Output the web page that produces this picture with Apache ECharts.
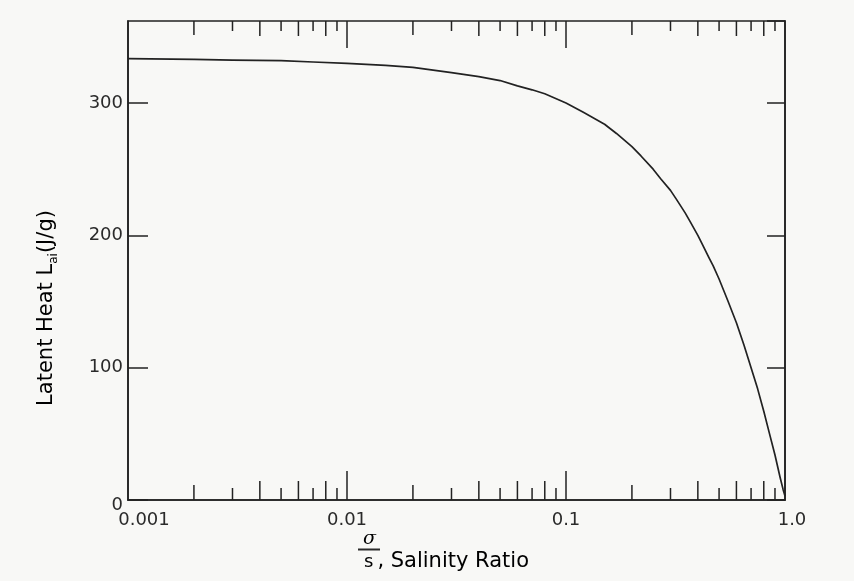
<!DOCTYPE html>
<html>
<head>
<meta charset="utf-8">
<script src="https://cdn.jsdelivr.net/npm/echarts@6/dist/echarts.min.js"></script>
<style>
html,body{margin:0;padding:0;background:#f8f8f6;}
#c{width:854px;height:581px;}
</style>
</head>
<body>
<div id="c"></div>
<script>
// ---- data ----
var salinityRatio = [0.001, 0.002, 0.003, 0.005, 0.007, 0.01, 0.015, 0.02, 0.03, 0.04, 0.05, 0.06, 0.07, 0.08, 0.1,
                     0.12, 0.15, 0.17, 0.2, 0.22, 0.25, 0.27, 0.3, 0.32, 0.35, 0.37, 0.4, 0.42, 0.45, 0.47, 0.5,
                     0.55, 0.6, 0.65, 0.7, 0.75, 0.8, 0.85, 0.9, 0.95, 0.98, 1.0];
var latentHeat    = [333.5, 333, 332.5, 332, 331, 330, 328.5, 327, 323, 320, 317, 313, 310, 307, 300,
                     293, 284, 277, 267, 260, 250, 243, 234, 227, 217, 210, 200, 193, 183, 177, 167,
                     150, 134, 117, 100, 84, 67, 50, 34, 17, 8, 3];
var xTickValues = [0.001, 0.01, 0.1, 1];
var xTickLabels = ['0.001', '0.01', '0.1', '1.0'];
var xMajorInner = [0.01, 0.1];
var xMinorTicks = [0.002,0.003,0.004,0.005,0.006,0.007,0.008,0.009,
                   0.02,0.03,0.04,0.05,0.06,0.07,0.08,0.09,
                   0.2,0.3,0.4,0.5,0.6,0.7,0.8,0.9];
var yMin = 0, yMax = 362, yInterval = 100;

var ink = '#222222';
var txt = '#2a2a2a';
var chart = echarts.init(document.getElementById('c'), null, {renderer: 'canvas'});

var tickData = xMajorInner.map(function (v) { return [v, 1]; })
  .concat(xMinorTicks.map(function (v) { return [v, 0]; }));

function tickLen(r, major, top) {
  if (major) return top ? 27 : 29;
  var d = Math.round(r / Math.pow(10, Math.floor(Math.log10(r) + 1e-9)));
  if (d === 2) return top ? 14 : 15;
  if (d % 2 === 0) return top ? 15 : 19;
  return top ? 10 : 12;
}

var option = {
  backgroundColor: '#f8f8f6',
  animation: false,
  grid: {left: 128, right: 69, top: 21, bottom: 81, show: true, borderColor: ink, borderWidth: 1.6, backgroundColor: 'transparent'},
  xAxis: {
    type: 'log', logBase: 10, min: 0.001, max: 1,
    axisLine: {show: true, lineStyle: {color: ink, width: 1.6}},
    axisTick: {show: false},
    splitLine: {show: false},
    minorTick: {show: false},
    axisLabel: {
      color: txt, fontFamily: 'DejaVu Sans', fontSize: 18, margin: 11,
      formatter: function (v) {
        var best = 0, bd = 1e9;
        for (var i = 0; i < xTickValues.length; i++) {
          var d = Math.abs(Math.log10(v) - Math.log10(xTickValues[i]));
          if (d < bd) { bd = d; best = i; }
        }
        if (best === 0) return '{first|' + xTickLabels[best] + '}';
        if (best === xTickValues.length - 1) return '{last|' + xTickLabels[best] + '}';
        return xTickLabels[best];
      },
      rich: {
        first: {fontFamily: 'DejaVu Sans', fontSize: 18, color: txt, padding: [0, 0, 0, 32]},
        last: {fontFamily: 'DejaVu Sans', fontSize: 18, color: txt, padding: [0, 0, 0, 14]}
      }
    }
  },
  yAxis: [{
    type: 'value', min: yMin, max: yMax, interval: yInterval, position: 'left',
    axisLine: {show: true, lineStyle: {color: ink, width: 1.6}},
    axisTick: {show: true, inside: true, length: 20, lineStyle: {color: ink, width: 1.5}},
    splitLine: {show: false},
    axisLabel: {color: txt, fontFamily: 'DejaVu Sans', fontSize: 18, margin: 5, showMaxLabel: false,
      formatter: function (v) { return v === 0 ? '{z|0}' : String(v); },
      rich: {z: {fontFamily: 'DejaVu Sans', fontSize: 18, color: txt, padding: [10, 0, 0, 0]}}
    }
  }, {
    type: 'value', min: yMin, max: yMax, interval: yInterval, position: 'right',
    axisLine: {show: true, lineStyle: {color: ink, width: 1.6}},
    axisTick: {show: true, inside: true, length: 18, lineStyle: {color: ink, width: 1.5}},
    splitLine: {show: false},
    axisLabel: {show: false}
  }],
  graphic: [{
    type: 'text', x: 47, y: 308, rotation: Math.PI / 2,
    style: {
      text: '{a|Latent Heat L}{sub|ai}{a|(J/g)}',
      align: 'center', verticalAlign: 'middle',
      rich: {
        a: {fontFamily: 'DejaVu Sans', fontSize: 21, color: txt, lineHeight: 26, verticalAlign: 'middle'},
        sub: {fontFamily: 'DejaVu Sans', fontSize: 12, color: txt, lineHeight: 12, verticalAlign: 'bottom'}
      }
    }
  }, {
    type: 'text', x: 358, y: 531,
    style: {
      text: '{num|σ}\n{bar| }\n{den|s}{rest|, Salinity Ratio}',
      align: 'left', verticalAlign: 'top',
      rich: {
        num: {fontFamily: 'DejaVu Serif', fontStyle: 'italic', fontSize: 19, color: txt, lineHeight: 16, padding: [0, 0, 0, 5]},
        bar: {fontSize: 2, width: 22, height: 2, lineHeight: 5, backgroundColor: txt},
        den: {fontFamily: 'DejaVu Sans', fontSize: 18, color: txt, lineHeight: 20, padding: [0, 4, 0, 6]},
        rest: {fontFamily: 'DejaVu Sans', fontSize: 21, color: txt, lineHeight: 20}
      }
    }
  }],
  series: [{
    type: 'line',
    data: salinityRatio.map(function (r, i) { return [r, latentHeat[i]]; }),
    showSymbol: false, smooth: false,
    lineStyle: {color: ink, width: 1.7, join: 'round'},
    silent: true
  }, {
    type: 'custom',
    clip: false, silent: true,
    data: tickData,
    encode: {x: 0},
    renderItem: function (params, api) {
      var r = api.value(0), major = api.value(1) === 1;
      var pb = api.coord([r, yMin]);
      var pt = api.coord([r, yMax]);
      var lb = tickLen(r, major, false), lt = tickLen(r, major, true);
      var st = {stroke: ink, lineWidth: 1.5};
      return {type: 'group', children: [
        {type: 'line', shape: {x1: pt[0], y1: pt[1], x2: pt[0], y2: pt[1] + lt}, style: st},
        {type: 'line', shape: {x1: pb[0], y1: pb[1], x2: pb[0], y2: pb[1] - lb}, style: st}
      ]};
    }
  }]
};
chart.setOption(option);
</script>
</body>
</html>
